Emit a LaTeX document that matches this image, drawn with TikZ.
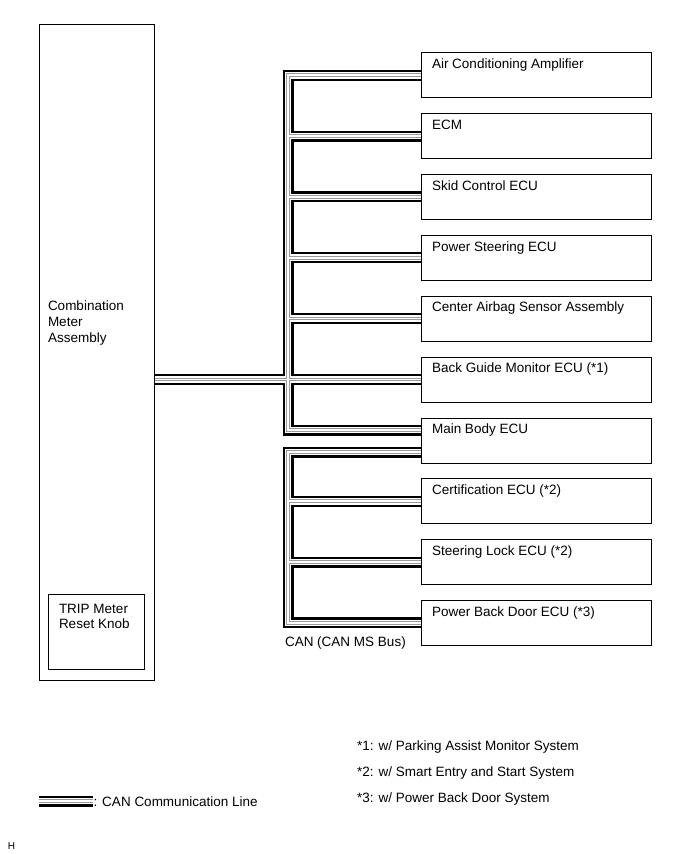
\documentclass[tikz,border=0pt]{standalone}
\usepackage{fontspec}
\setmainfont{Liberation Sans}
\pgfdeclarelayer{bg}
\pgfsetlayers{bg,main}
\tikzset{
  box/.style={draw, line width=0.9pt, outer sep=0pt, inner sep=0pt, minimum width=230pt, minimum height=45pt, anchor=north west},
  frame/.style={draw, line width=0.9pt, outer sep=0pt, inner sep=0pt, anchor=north west},
  txt/.style={font=\fontsize{13.5}{16}\selectfont, inner sep=0pt, outer sep=0pt, anchor=base west, align=left},
  cabA/.style={line width=11pt, black, line join=miter},
  cabB/.style={line width=6.6pt, white, line join=miter},
  cabC/.style={line width=3.8pt, black!40, line join=miter},
  cabD/.style={line width=1.8pt, white, line join=miter},
}
\newcommand\canrun[1]{%
  \draw[#1] (ac.west) -| (tr |- mbu) -- (mbu);
  \foreach \bx in {ecm,skid,ps,ab} {\draw[#1] (\bx.west) -- (tr |- \bx.west);}
  \draw[#1] (mtr) -- (bg.west);
  \draw[#1] (mbl) -| (tr |- pbd.west) -- (pbd.west);
  \foreach \bx in {cert,sl} {\draw[#1] (\bx.west) -- (tr |- \bx.west);}
  \draw[#1] (lgA) -- (lgB);
}
\begin{document}
\begin{tikzpicture}[x=1pt,y=-1pt]
\useasboundingbox (0,0) rectangle (691,854);
% combination meter
\node[frame, minimum width=115pt, minimum height=656pt] (meter) at (39,24) {};
\node[txt] (tmeter) at (48,342) {Combination\\Meter\\Assembly};
\node[frame, minimum width=96pt, minimum height=75pt] (trip) at (48.3,594.3) {};
\node[txt, font=\fontsize{13.5}{15}\selectfont] (ttrip) at (59,628.3) {TRIP Meter\\Reset Knob};
% ECUs
\node[box] (ac)   at (421,52.7)  {};
\node[box] (ecm)  at (421,113.5) {};
\node[box] (skid) at (421,174.3) {};
\node[box] (ps)   at (421,235.2) {};
\node[box] (ab)   at (421,296)   {};
\node[box] (bg)   at (421,357)   {};
\node[box] (mb)   at (421,418)   {};
\node[box] (cert) at (421,478.7) {};
\node[box] (sl)   at (421,539.5) {};
\node[box] (pbd)  at (421,600.3) {};
\node[txt] (tac)   at ([xshift=11pt,yshift=-15.8pt]ac.north west)   {Air Conditioning Amplifier};
\node[txt] (tecm)  at ([xshift=11pt,yshift=-15.8pt]ecm.north west)  {ECM};
\node[txt] (tskid) at ([xshift=11pt,yshift=-15.8pt]skid.north west) {Skid Control ECU};
\node[txt] (tps)   at ([xshift=11pt,yshift=-15.8pt]ps.north west)   {Power Steering ECU};
\node[txt] (tab)   at ([xshift=11pt,yshift=-15.8pt]ab.north west)   {Center Airbag Sensor Assembly};
\node[txt] (tbg)   at ([xshift=11pt,yshift=-15.8pt]bg.north west)   {Back Guide Monitor ECU (*1)};
\node[txt] (tmb)   at ([xshift=11pt,yshift=-15.8pt]mb.north west)   {Main Body ECU};
\node[txt] (tcert) at ([xshift=11pt,yshift=-15.8pt]cert.north west) {Certification ECU (*2)};
\node[txt] (tsl)   at ([xshift=11pt,yshift=-15.8pt]sl.north west)   {Steering Lock ECU (*2)};
\node[txt] (tpbd)  at ([xshift=11pt,yshift=-15.8pt]pbd.north west)  {Power Back Door ECU (*3)};
% helper coordinates
\coordinate (tr) at (288,0);
\coordinate (mbu) at ([yshift=10.5pt]mb.west);
\coordinate (mbl) at ([yshift=-11.5pt]mb.west);
\coordinate (mtr) at (meter.east |- bg.west);
\coordinate (lgA) at (39,801);
\coordinate (lgB) at (93,801);
% CAN cables
\begin{pgfonlayer}{bg}
\canrun{cabA}
\canrun{cabB}
\canrun{cabC}
\canrun{cabD}
\end{pgfonlayer}
% labels
\node[txt] (tcan) at (285,646) {CAN (CAN MS Bus)};
\node[txt] (n1) at (357,750) {*1: w/ Parking Assist Monitor System};
\node[txt] (n2) at (357,776) {*2: w/ Smart Entry and Start System};
\node[txt] (n3) at (357,802) {*3: w/ Power Back Door System};
\node[txt] (tleg) at (93.5,806) {: CAN Communication Line};
\node[txt, font=\fontsize{10}{12}\selectfont] (th) at (8,849) {H};
\end{tikzpicture}
\end{document}
